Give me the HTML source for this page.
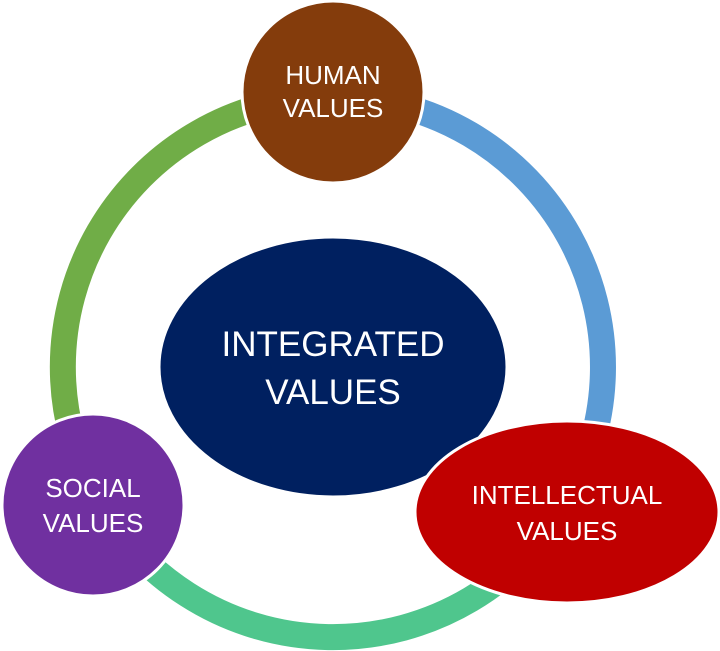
<!DOCTYPE html>
<html><head><style>body{margin:0;background:#fff}svg{display:block}text{font-family:"Liberation Sans",sans-serif;fill:#fff;text-anchor:middle}</style></head>
<body>
<svg width="720" height="651" viewBox="0 0 720 651">
<g fill="none" stroke-width="26">
<path d="M333 97 A270 270 0 0 1 562 510" stroke="#5B9BD5"/>
<path d="M562 510 A270 270 0 0 1 99 502" stroke="#4FC68D"/>
<path d="M99 502 A270 270 0 0 1 333 97" stroke="#70AD47"/>
</g>
<ellipse cx="333" cy="367" rx="174" ry="130" fill="#002060" stroke="#fff" stroke-width="3"/>
<ellipse cx="333" cy="92" rx="91" ry="91" fill="#843C0C" stroke="#fff" stroke-width="3"/>
<ellipse cx="93" cy="505" rx="91" ry="91" fill="#7030A0" stroke="#fff" stroke-width="3"/>
<ellipse cx="567" cy="512" rx="152" ry="91" fill="#C00000" stroke="#fff" stroke-width="3"/>
<text x="333" y="356" font-size="35">INTEGRATED</text>
<text x="333" y="404" font-size="35">VALUES</text>
<text x="333" y="84" font-size="26">HUMAN</text>
<text x="333" y="117" font-size="26">VALUES</text>
<text x="93" y="497" font-size="26">SOCIAL</text>
<text x="93" y="532" font-size="26">VALUES</text>
<text x="567" y="504" font-size="26">INTELLECTUAL</text>
<text x="567" y="540" font-size="26">VALUES</text>
</svg>
</body></html>
